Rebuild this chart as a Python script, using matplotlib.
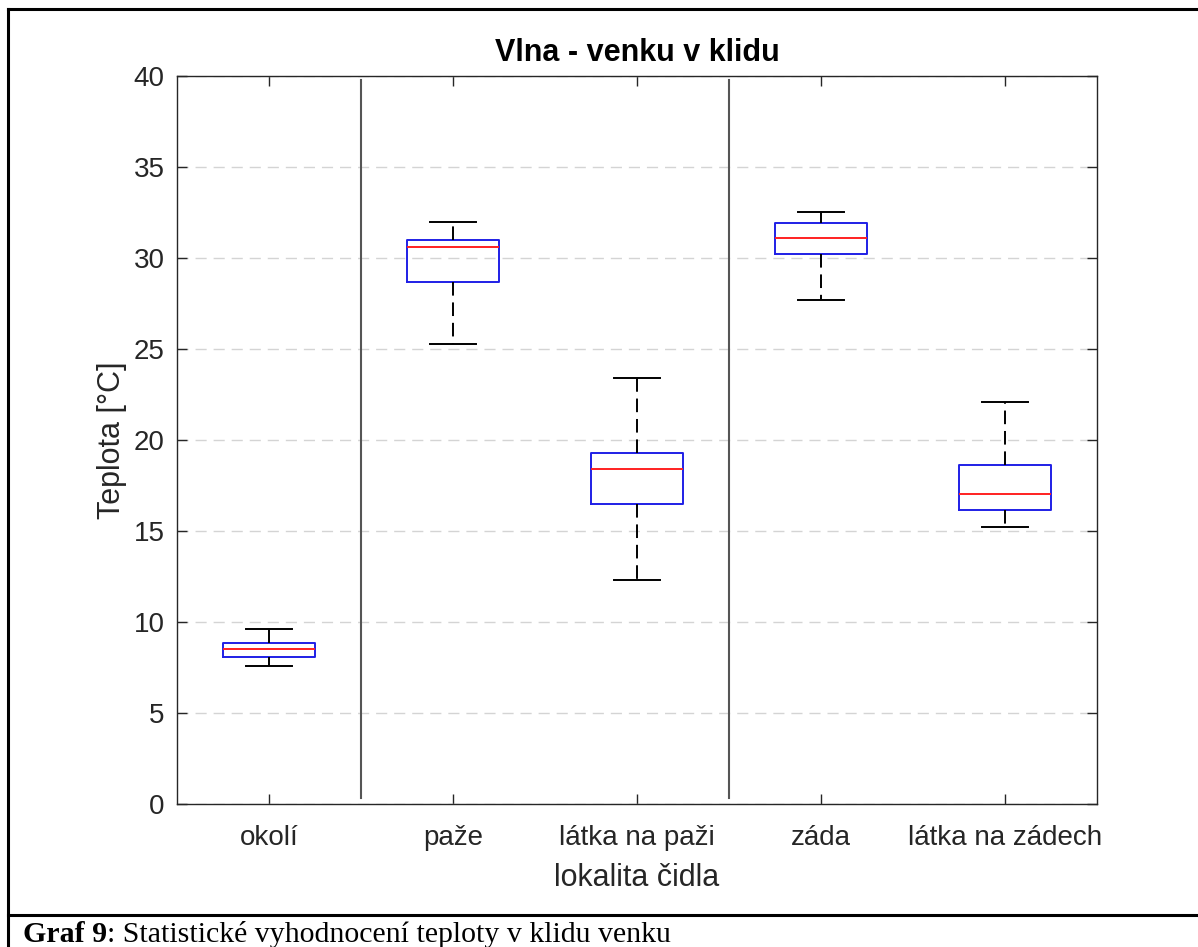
import matplotlib.pyplot as plt
from matplotlib.lines import Line2D

# popisky a hodnoty
lokality = ["okolí", "paže", "látka na paži", "záda", "látka na zádech"]
median = [8.5, 30.6, 18.4, 31.1, 17.05]
q1 = [8.1, 28.7, 16.5, 30.2, 16.15]
q3 = [8.85, 31.0, 19.3, 31.9, 18.6]
whis_lo = [7.6, 25.3, 12.3, 27.7, 15.2]
whis_hi = [9.6, 32.0, 23.4, 32.5, 22.1]
oddelovace = [1.5, 3.5]
yticks = [0, 5, 10, 15, 20, 25, 30, 35, 40]

plt.rcParams['font.family'] = ['Liberation Sans', 'DejaVu Sans']

fig = plt.figure(figsize=(11.98, 9.47), dpi=100)
ax = fig.add_axes([177/1198, 1 - 804/947, 920/1198, 728/947])

stats = []
for i in range(len(lokality)):
    stats.append(dict(med=median[i], q1=q1[i], q3=q3[i],
                      whislo=whis_lo[i], whishi=whis_hi[i], fliers=[]))

ax.bxp(stats, positions=range(1, len(lokality) + 1), widths=0.5, capwidths=0.25,
       showfliers=False,
       boxprops=dict(color='#1f1fe6', linewidth=1.4),
       medianprops=dict(color='#ff2020', linewidth=1.4),
       whiskerprops=dict(color='black', linewidth=1.4, linestyle=(0, (7, 3.5))),
       capprops=dict(color='black', linewidth=1.4))

for x in oddelovace:
    ax.axvline(x, ymin=0.008, ymax=0.995, color='#555555', linewidth=1.5)

ax.set_xlim(0.5, 5.5)
ax.set_ylim(0, 40)
ax.set_yticks(yticks)
ax.set_xticks(range(1, len(lokality) + 1))
ax.set_xticklabels(lokality)
ax.yaxis.grid(True, color='#d4d4d4', linestyle=(0, (8, 5)), linewidth=1)
ax.set_axisbelow(True)

ax.tick_params(axis='both', direction='in', length=7, width=1, colors='#262626',
               labelsize=20, top=True, right=True)
ax.tick_params(axis='y', pad=9)
ax.tick_params(axis='x', pad=15)
for s in ax.spines.values():
    s.set_color('#262626')
    s.set_linewidth(1)

ax.set_title("Vlna - venku v klidu", fontsize=22, fontweight='bold', pad=10.5)
ax.set_ylabel("Teplota [°C]", fontsize=22, color='#262626', labelpad=5)
ax.set_xlabel("lokalita čidla", fontsize=22, color='#262626', labelpad=9)

# rámeček kolem obrázku a popisek
W, H = 1198, 947
def px(x, y):
    return x / W, 1 - y / H
for (x0, y0), (x1, y1) in [((8, 9), (W, 9)), ((8, 9), (8, H)), ((8, 915), (W, 915))]:
    a, b = px(x0, y0)
    c, d = px(x1, y1)
    fig.add_artist(Line2D([a, c], [b, d], color='black', linewidth=2.2))

t1 = fig.text(23 / W, 1 - 942 / H, "Graf 9", fontsize=21.5, fontweight='bold',
              family='Liberation Serif', va='baseline', ha='left')
plt.annotate(": Statistické vyhodnocení teploty v klidu venku", xy=(1, 0),
             xycoords=t1, va='bottom', ha='left', fontsize=21.5,
             family='Liberation Serif', annotation_clip=False)

fig.savefig("out.png", dpi=100)
